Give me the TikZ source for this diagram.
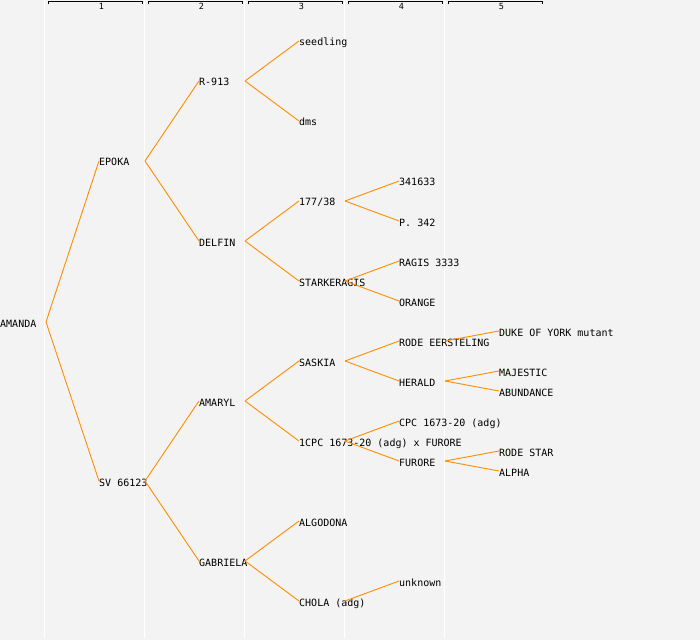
\documentclass[tikz,border=0pt]{standalone}
\usepackage{fontspec}
\setmonofont{DejaVu Sans Mono}
\definecolor{bgc}{HTML}{F3F3F3}
\definecolor{edgec}{HTML}{FF8C00}
\begin{document}
\begin{tikzpicture}[x=1bp,y=-1bp,
  lbl/.style={anchor=west,inner sep=0pt,text height=10bp,text depth=0pt,font=\ttfamily\fontsize{10bp}{10bp}\selectfont},
  hdr/.style={inner sep=0pt,font=\ttfamily\fontsize{8.5bp}{8.5bp}\selectfont},
  edge/.style={draw=edgec,line width=0.9bp},
  colline/.style={draw=white,line width=1bp},
  bracket/.style={draw=black,line width=0.9bp}]
\fill[bgc] (0,0) rectangle (700,640);
\useasboundingbox (0,0) rectangle (700,640);
% column separators
\foreach \x in {44,144,244,344,444} \draw[colline] (\x,0) -- (\x,638);
% header brackets
\foreach \k in {1,...,5} {
  \draw[bracket] ({48+100*(\k-1)},4.5) -- ({48+100*(\k-1)},1.2) -- ({142+100*(\k-1)},1.2) -- ({142+100*(\k-1)},4.5);
  \node[hdr] (h\k) at ({101.5+100*(\k-1)},6.2) {\k};
}
% generation 0
\node[lbl] (amanda) at (0,322) {AMANDA};
% generation 1
\node[lbl] (epoka) at (99,161) {EPOKA};
\node[lbl] (sv) at (99,481) {SV 66123};
% generation 2
\node[lbl] (r913) at (199,81) {R-913};
\node[lbl] (delfin) at (199,241) {DELFIN};
\node[lbl] (amaryl) at (199,401) {AMARYL};
\node[lbl] (gabriela) at (199,561) {GABRIELA};
% generation 3
\node[lbl] (seedling) at (299,41) {seedling};
\node[lbl] (dms) at (299,121) {dms};
\node[lbl] (n17738) at (299,201) {177/38};
\node[lbl] (starkeragis) at (299,281) {STARKERAGIS};
\node[lbl] (saskia) at (299,361) {SASKIA};
\node[lbl] (cpcx) at (299,441) {1CPC 1673-20 (adg) x FURORE};
\node[lbl] (algodona) at (299,521) {ALGODONA};
\node[lbl] (chola) at (299,601) {CHOLA (adg)};
% generation 4
\node[lbl] (n341633) at (399,181) {341633};
\node[lbl] (p342) at (399,221) {P. 342};
\node[lbl] (ragis) at (399,261) {RAGIS 3333};
\node[lbl] (orange) at (399,301) {ORANGE};
\node[lbl] (rode) at (399,341) {RODE EERSTELING};
\node[lbl] (herald) at (399,381) {HERALD};
\node[lbl] (cpc) at (399,421) {CPC 1673-20 (adg)};
\node[lbl] (furore) at (399,461) {FURORE};
\node[lbl] (unknown) at (399,581) {unknown};
% generation 5
\node[lbl] (duke) at (499,331) {DUKE OF YORK mutant};
\node[lbl] (majestic) at (499,371) {MAJESTIC};
\node[lbl] (abundance) at (499,391) {ABUNDANCE};
\node[lbl] (rodestar) at (499,451) {RODE STAR};
\node[lbl] (alpha) at (499,471) {ALPHA};
% connectors
\foreach \p/\c in {amanda/epoka,amanda/sv,
  epoka/r913,epoka/delfin,sv/amaryl,sv/gabriela,
  r913/seedling,r913/dms,delfin/n17738,delfin/starkeragis,
  amaryl/saskia,amaryl/cpcx,gabriela/algodona,gabriela/chola,
  n17738/n341633,n17738/p342,starkeragis/ragis,starkeragis/orange,
  saskia/rode,saskia/herald,cpcx/cpc,cpcx/furore,chola/unknown,
  rode/duke,herald/majestic,herald/abundance,furore/rodestar,furore/alpha}
  \draw[edge] ([xshift=46bp]\p.west) -- (\c.west);
\end{tikzpicture}
\end{document}
